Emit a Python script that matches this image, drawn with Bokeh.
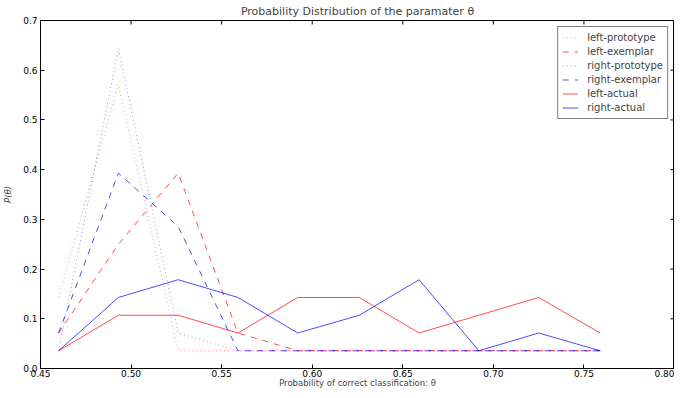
import math
from bokeh.plotting import figure
from bokeh.models import FixedTicker, NumeralTickFormatter, Range1d, Legend, LegendItem
from bokeh.embed import file_html
from bokeh.resources import INLINE

theta = [0.460, 0.493, 0.526, 0.559, 0.592, 0.626, 0.659, 0.692, 0.725, 0.759]
left_prototype = [0.1429, 0.5714, 0.0357, 0.0357, 0.0357, 0.0357, 0.0357, 0.0357, 0.0357, 0.0357]
left_exemplar = [0.0714, 0.25, 0.3929, 0.0714, 0.0357, 0.0357, 0.0357, 0.0357, 0.0357, 0.0357]
right_prototype = [0.0357, 0.6429, 0.0714, 0.0357, 0.0357, 0.0357, 0.0357, 0.0357, 0.0357, 0.0357]
right_exemplar = [0.0714, 0.3929, 0.2857, 0.0357, 0.0357, 0.0357, 0.0357, 0.0357, 0.0357, 0.0357]
left_actual = [0.0357, 0.1071, 0.1071, 0.0714, 0.1429, 0.1429, 0.0714, 0.1071, 0.1429, 0.0714]
right_actual = [0.0357, 0.1429, 0.1786, 0.1429, 0.0714, 0.1071, 0.1786, 0.0357, 0.0714, 0.0357]

x_ticks = [0.45, 0.50, 0.55, 0.60, 0.65, 0.70, 0.75, 0.80]
y_ticks = [0.0, 0.1, 0.2, 0.3, 0.4, 0.5, 0.6, 0.7]

FONT = "DejaVu Sans"

p = figure(width=674, height=390, output_backend="svg", toolbar_location=None,
           x_range=Range1d(x_ticks[0], x_ticks[-1]), y_range=Range1d(y_ticks[0], y_ticks[-1]),
           min_border_left=39, min_border_right=0, min_border_top=0, min_border_bottom=0,
           x_axis_label="Probability of correct classification: θ", y_axis_label="P(θ)")

p.title.text = "Probability Distribution of the paramater θ"
p.title.align = "center"
p.title.text_font = FONT
p.title.text_font_size = "11px"
p.title.text_font_style = "normal"
p.title.standoff = 5
p.title.offset = 0

p.xgrid.visible = False
p.ygrid.visible = False
p.outline_line_color = "black"
p.outline_line_width = 1
p.background_fill_color = "white"
p.border_fill_color = "white"

def style_axis(ax, ticks, fmt):
    ax.ticker = FixedTicker(ticks=ticks)
    ax.formatter = NumeralTickFormatter(format=fmt)
    ax.major_tick_in = 4
    ax.major_tick_out = 0
    ax.minor_tick_line_color = None
    ax.axis_line_color = "black"
    ax.major_tick_line_color = "black"
    ax.major_label_text_font = FONT
    ax.major_label_text_color = "black"
    ax.major_label_text_font_size = "9px"
    ax.major_label_standoff = 1
    ax.axis_label_text_font = FONT
    ax.axis_label_text_font_size = "8.5px"
    ax.axis_label_text_font_style = "normal"
    ax.axis_label_standoff = -2

style_axis(p.xaxis[0], x_ticks, "0.00")
style_axis(p.yaxis[0], y_ticks, "0.0")
p.yaxis[0].axis_label_text_font_style = "italic"
p.yaxis[0].axis_label_standoff = 7
p.yaxis[0].major_label_standoff = 3

# mirrored inward ticks on the top and right edges of the frame
p.scatter(x=x_ticks, y=[y_ticks[-1]] * len(x_ticks), marker="dash", angle=math.pi / 2,
          size=8, line_color="black", line_width=1)
p.scatter(x=[x_ticks[-1]] * len(y_ticks), y=y_ticks, marker="dash", angle=0,
          size=8, line_color="black", line_width=1)

series = [
    ("left-prototype", left_prototype, "#ff0000", "1 3", 0.45),
    ("left-exemplar", left_exemplar, "#ff0000", "6 6", 0.7),
    ("right-prototype", right_prototype, "#0000ff", "1 3", 0.45),
    ("right-exemplar", right_exemplar, "#0000ff", "6 6", 0.7),
    ("left-actual", left_actual, "#ff0000", "solid", 0.7),
    ("right-actual", right_actual, "#0000ff", "solid", 0.7),
]

items = []
for name, ys, color, dash, alpha in series:
    r = p.line(theta, ys, line_color=color, line_dash=dash, line_alpha=alpha, line_width=1)
    items.append(LegendItem(label=name, renderers=[r]))

legend = Legend(items=items, location="top_right")
legend.margin = 6
legend.padding = 4
legend.spacing = 1
legend.glyph_height = 13
legend.glyph_width = 16
legend.label_height = 13
legend.label_standoff = 9
legend.label_text_font = FONT
legend.label_text_font_size = "10px"
legend.border_line_color = "black"
legend.border_line_width = 1
legend.background_fill_alpha = 1
p.add_layout(legend)

open("out.html", "w").write(file_html(p, INLINE))
